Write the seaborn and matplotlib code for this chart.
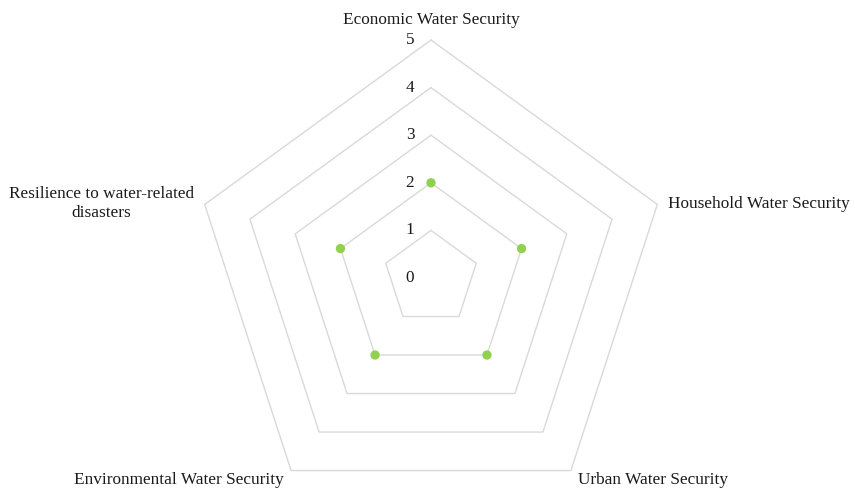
import numpy as np
import pandas as pd
import matplotlib
matplotlib.use("Agg")
import matplotlib.pyplot as plt
import seaborn as sns

# Scores per dimension of water security (0-5 scale)
categories = [
    "Economic Water Security",
    "Household Water Security",
    "Urban Water Security",
    "Environmental Water Security",
    "Resilience to water-related\ndisasters",
]
scores = [2, 2, 2, 2, 2]
ring_levels = [1, 2, 3, 4, 5]
tick_labels = ["0", "1", "2", "3", "4", "5"]

sns.set_theme(style="white")
plt.rcParams["font.family"] = ["Liberation Serif", "DejaVu Serif"]

W, H = 855, 492
fig = plt.figure(figsize=(W / 100, H / 100), dpi=100)
ax = fig.add_axes([0, 0, 1, 1])

# Radar geometry: one spoke per category, clockwise from the top
n = len(categories)
angles = np.arange(n) * 2 * np.pi / n
ux, uy = np.sin(angles), np.cos(angles)

unit = 47.6          # pixels per score unit
cx, cy = 431, 278    # centre in pixels
ax.set_xlim(-cx / unit, (W - cx) / unit)
ax.set_ylim(-(H - cy) / unit, cy / unit)
ax.set_aspect("equal")
ax.axis("off")

# Pentagonal grid rings
grid_color = "#D9D9D9"
for lvl in ring_levels:
    xs = np.append(ux * lvl, ux[0] * lvl)
    ys = np.append(uy * lvl, uy[0] * lvl)
    ax.plot(xs, ys, color=grid_color, lw=1.0, zorder=1)

fs = 12.4
text_color = "#1a1a1a"

# Value labels along the top spoke
for i, t in enumerate(tick_labels):
    ax.text(-0.44, i, t, ha="center", va="center", fontsize=fs, color=text_color)

# Category labels around the outer ring
rmax = ring_levels[-1]
label_pos = [
    (0.0, rmax + 0.42, "center", "center"),
    (ux[1] * rmax + 0.22, uy[1] * rmax + 0.02, "left", "center"),
    (ux[2] * rmax + 0.15, uy[2] * rmax - 0.19, "left", "center"),
    (ux[3] * rmax - 0.15, uy[3] * rmax - 0.19, "right", "center"),
    (ux[4] * rmax - 0.23, uy[4] * rmax + 0.02, "right", "center"),
]
for cat, (x, y, ha, va) in zip(categories, label_pos):
    ax.text(x, y, cat, ha=ha, va=va, fontsize=fs, color=text_color,
            multialignment="center", linespacing=1.2)

# Data points
df = pd.DataFrame({
    "category": categories,
    "x": ux * np.array(scores),
    "y": uy * np.array(scores),
})
sns.scatterplot(data=df, x="x", y="y", color="#92D050", s=45,
                edgecolor="none", ax=ax, zorder=3, legend=False)
ax.set_xlabel("")
ax.set_ylabel("")

fig.savefig("out.png", dpi=100, facecolor="white")
